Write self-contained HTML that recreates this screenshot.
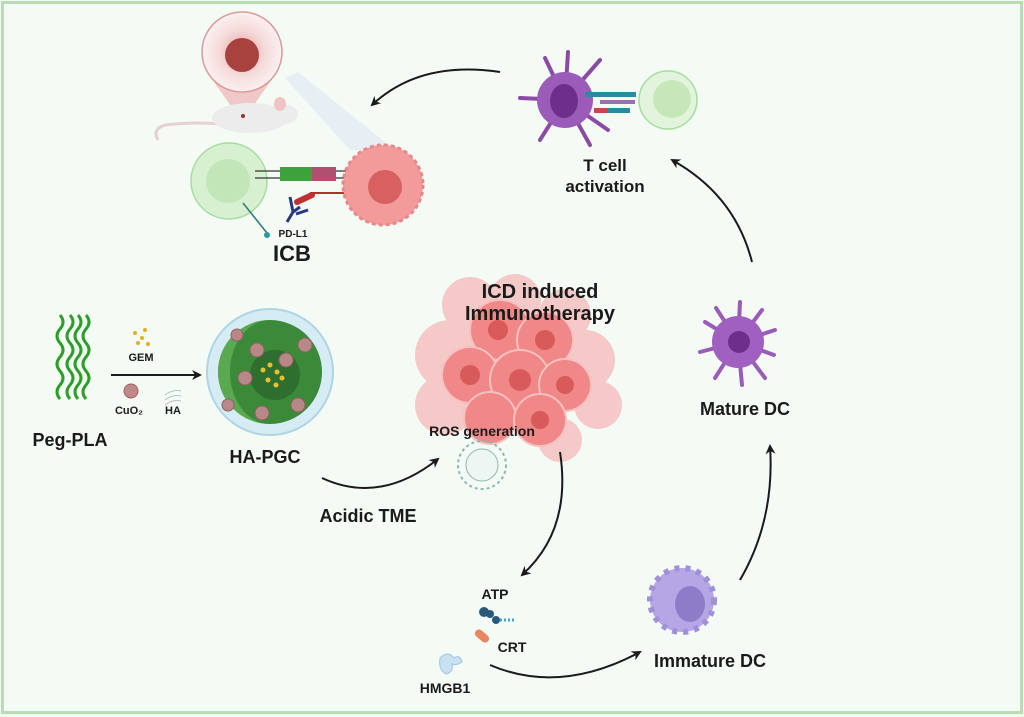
<!DOCTYPE html>
<html><head><meta charset="utf-8"><style>
html,body{margin:0;padding:0;background:#f4fbf4;}
svg{display:block;}
text{font-family:"Liberation Sans",Arial,sans-serif;font-weight:bold;fill:#1a1a1a;}
</style></head><body>
<svg width="1024" height="717" viewBox="0 0 1024 717" xmlns="http://www.w3.org/2000/svg">
<defs>
<marker id="ah" markerWidth="10" markerHeight="10" refX="8" refY="5" orient="auto" markerUnits="userSpaceOnUse" viewBox="0 0 10 10"><path d="M0,0 L10,5 L0,10 L3,5 z" fill="#1a1a1a"/></marker>
<radialGradient id="mag" cx="50%" cy="50%" r="50%"><stop offset="0" stop-color="#e8a0a0"/><stop offset="0.6" stop-color="#f6dcdc"/><stop offset="1" stop-color="#fbf0f0"/></radialGradient>
</defs>
<rect x="0" y="0" width="1024" height="717" fill="#f4fbf4"/>
<rect x="2.5" y="2.5" width="1019" height="710" fill="none" stroke="#b9dcb5" stroke-width="3"/>

<!-- magnifier & mouse -->
<polygon points="285,78 350,150 395,150 298,72" fill="#e4ecf4" opacity="0.8"/>
<path d="M214,82 L242,122 L270,82 z" fill="#f0c8c8"/>
<circle cx="242" cy="52" r="40" fill="url(#mag)" stroke="#d99a9a" stroke-width="1.5"/>
<circle cx="242" cy="55" r="17" fill="#a8423e"/>
<path d="M158,140 Q150,125 175,124 Q200,122 220,124" fill="none" stroke="#e6d0d0" stroke-width="3"/>
<ellipse cx="250" cy="118" rx="38" ry="15" fill="#ececec"/>
<ellipse cx="283" cy="114" rx="15" ry="10" fill="#ececec"/>
<ellipse cx="280" cy="104" rx="6" ry="7" fill="#f0c4c4"/>
<circle cx="243" cy="116" r="2" fill="#a03030"/>

<!-- arrow top -->
<path d="M500,72 Q420,60 372,105" fill="none" stroke="#1a1a1a" stroke-width="2" marker-end="url(#ah)"/>

<!-- ICB -->
<circle cx="229" cy="181" r="38" fill="#d6f0d0" stroke="#a7dba0" stroke-width="1.5"/>
<circle cx="228" cy="181" r="22" fill="#c2e6b8"/>
<line x1="255" y1="171" x2="360" y2="171" stroke="#333" stroke-width="1.2"/>
<line x1="255" y1="178" x2="360" y2="178" stroke="#333" stroke-width="1.2"/>
<rect x="280" y="167" width="32" height="14" fill="#3ea23c"/>
<rect x="312" y="167" width="24" height="14" fill="#b05070"/>
<line x1="310" y1="193" x2="360" y2="193" stroke="#b03030" stroke-width="2"/>
<path d="M297,202 L312,195" stroke="#c03030" stroke-width="6" stroke-linecap="round"/>
<path d="M290,197 L293,212 L287,222 M300,207 L293,212 M308,210 L296,214" fill="none" stroke="#283880" stroke-width="3"/>
<line x1="243" y1="203" x2="267" y2="233" stroke="#2a7a7a" stroke-width="1.5"/>
<circle cx="267" cy="235" r="3" fill="#2a9a9a"/>
<circle cx="383" cy="185" r="40" fill="#f39a9a" stroke="#e88888" stroke-width="3" stroke-dasharray="4 3"/>
<circle cx="385" cy="187" r="17" fill="#d86060"/>
<text x="293" y="237" font-size="10" text-anchor="middle">PD-L1</text>
<text x="292" y="261" font-size="22" text-anchor="middle">ICB</text>

<!-- top DC + T cell -->
<g stroke="#8b4aa4" stroke-width="4" stroke-linecap="round" fill="none">
<path d="M565,100 L545,58 M565,100 L568,52 M565,100 L600,60 M565,100 L520,98 M565,100 L540,140 M565,100 L590,145 M565,100 L608,130"/>
</g>
<circle cx="565" cy="100" r="28" fill="#9a5cb8"/>
<ellipse cx="564" cy="101" rx="14" ry="17" fill="#6e2f8c"/>
<circle cx="668" cy="100" r="29" fill="#e2f5dc" stroke="#a8dca0" stroke-width="1.5"/>
<circle cx="672" cy="99" r="19" fill="#c6e8b8"/>
<rect x="586" y="92" width="50" height="5" fill="#2a8aa0"/>
<rect x="600" y="100" width="35" height="4" fill="#9a70b0"/>
<rect x="594" y="108" width="14" height="5" fill="#d04050"/>
<rect x="608" y="108" width="22" height="5" fill="#2a8aa0"/>
<text x="605" y="171" font-size="17" text-anchor="middle">T cell</text>
<text x="605" y="192" font-size="17" text-anchor="middle">activation</text>

<!-- arrow right up -->
<path d="M752,262 Q735,195 672,160" fill="none" stroke="#1a1a1a" stroke-width="2" marker-end="url(#ah)"/>

<!-- ICD tumor cluster -->
<g fill="#f5b5b5" opacity="0.7">
<circle cx="450" cy="355" r="35"/><circle cx="585" cy="360" r="30"/><circle cx="598" cy="405" r="24"/><circle cx="445" cy="405" r="30"/><circle cx="470" cy="305" r="28"/><circle cx="565" cy="315" r="26"/><circle cx="515" cy="300" r="26"/><circle cx="560" cy="440" r="22"/>
</g>
<g fill="#f08888" stroke="#f7c0c0" stroke-width="2">
<circle cx="500" cy="330" r="30"/><circle cx="545" cy="340" r="28"/><circle cx="470" cy="375" r="28"/><circle cx="520" cy="380" r="30"/><circle cx="565" cy="385" r="26"/><circle cx="490" cy="418" r="26"/><circle cx="540" cy="420" r="26"/>
</g>
<g fill="#d85a5a">
<circle cx="498" cy="330" r="10"/><circle cx="545" cy="340" r="10"/><circle cx="470" cy="375" r="10"/><circle cx="520" cy="380" r="11"/><circle cx="565" cy="385" r="9"/><circle cx="540" cy="420" r="9"/>
</g>
<circle cx="482" cy="465" r="24" fill="none" stroke="#8ab8b0" stroke-width="2" stroke-dasharray="3 3"/>
<circle cx="482" cy="465" r="16" fill="#eef6f4" stroke="#8ab8b0" stroke-width="1"/>
<text x="540" y="298" font-size="20" text-anchor="middle">ICD induced</text>
<text x="540" y="320" font-size="20" text-anchor="middle">Immunotherapy</text>
<text x="482" y="436" font-size="14" text-anchor="middle">ROS generation</text>

<!-- Peg-PLA -->
<g fill="none" stroke="#2e9e2a" stroke-width="3">
<path d="M60,315 q6,7 0,14 q-6,7 0,14 q6,7 0,14 q-6,7 0,14 q6,7 0,14 q-6,7 0,14"/>
<path d="M70,315 q6,7 0,14 q-6,7 0,14 q6,7 0,14 q-6,7 0,14 q6,7 0,14 q-6,7 0,14"/>
<path d="M78,315 q6,7 0,14 q-6,7 0,14 q6,7 0,14 q-6,7 0,14 q6,7 0,14 q-6,7 0,14"/>
<path d="M86,315 q6,7 0,14 q-6,7 0,14 q6,7 0,14 q-6,7 0,14 q6,7 0,14 q-6,7 0,14"/>
</g>
<text x="70" y="446" font-size="18" text-anchor="middle">Peg-PLA</text>
<g fill="#e0b020"><circle cx="135" cy="333" r="2"/><circle cx="142" cy="338" r="2"/><circle cx="138" cy="343" r="2"/><circle cx="145" cy="330" r="2"/><circle cx="148" cy="344" r="2"/></g>
<text x="141" y="361" font-size="11" text-anchor="middle">GEM</text>
<line x1="111" y1="375" x2="200" y2="375" stroke="#1a1a1a" stroke-width="2" marker-end="url(#ah)"/>
<circle cx="131" cy="391" r="7" fill="#c08888" stroke="#a06060"/>
<text x="129" y="414" font-size="11" text-anchor="middle">CuO₂</text>
<path d="M165,395 q8,-6 16,-4 M165,400 q8,-6 16,-4 M165,405 q8,-6 16,-4" fill="none" stroke="#b8c0c8"/>
<text x="173" y="414" font-size="11" text-anchor="middle">HA</text>

<!-- HA-PGC -->
<circle cx="270" cy="372" r="63" fill="#d6ecf4" stroke="#b0d4e4" stroke-width="2"/>
<circle cx="270" cy="372" r="52" fill="#3a8a3a"/>
<path d="M270,320 A52,52 0 0 0 270,424 A40,52 0 0 1 270,320" fill="#5aa850"/>
<circle cx="275" cy="375" r="25" fill="#2e6e2e"/>
<g fill="#b88888" stroke="#946060"><circle cx="257" cy="350" r="7"/><circle cx="305" cy="345" r="7"/><circle cx="286" cy="360" r="7"/><circle cx="245" cy="378" r="7"/><circle cx="298" cy="405" r="7"/><circle cx="262" cy="413" r="7"/><circle cx="228" cy="405" r="6"/><circle cx="237" cy="335" r="6"/></g>
<g fill="#e8c030"><circle cx="263" cy="370" r="2.5"/><circle cx="270" cy="365" r="2.5"/><circle cx="277" cy="372" r="2.5"/><circle cx="268" cy="380" r="2.5"/><circle cx="276" cy="385" r="2.5"/><circle cx="282" cy="378" r="2.5"/></g>
<text x="265" y="463" font-size="18" text-anchor="middle">HA-PGC</text>

<path d="M322,478 Q380,505 438,459" fill="none" stroke="#1a1a1a" stroke-width="2" marker-end="url(#ah)"/>
<text x="368" y="522" font-size="18" text-anchor="middle">Acidic TME</text>

<!-- arrow down -->
<path d="M560,452 Q572,530 522,575" fill="none" stroke="#1a1a1a" stroke-width="2" marker-end="url(#ah)"/>

<!-- Mature DC -->
<g stroke="#9a5cb8" stroke-width="4" stroke-linecap="round" fill="none">
<path d="M738,342 L705,322 M738,342 L716,308 M738,342 L740,302 M738,342 L762,310 M738,342 L775,330 M738,342 L774,355 M738,342 L765,378 M738,342 L742,385 M738,342 L715,378 M738,342 L700,352"/>
</g>
<circle cx="738" cy="342" r="26" fill="#a060c0"/>
<circle cx="739" cy="342" r="11" fill="#6e2f8c"/>
<text x="745" y="415" font-size="18" text-anchor="middle">Mature DC</text>

<path d="M740,580 Q775,520 770,446" fill="none" stroke="#1a1a1a" stroke-width="2" marker-end="url(#ah)"/>

<!-- Immature DC -->
<circle cx="682" cy="600" r="32" fill="#b6a6e6" stroke="#a090d8" stroke-width="6" stroke-dasharray="5 6"/>
<ellipse cx="690" cy="604" rx="15" ry="18" fill="#8e7cc8"/>
<text x="710" y="667" font-size="18" text-anchor="middle">Immature DC</text>

<!-- ATP CRT HMGB1 -->
<text x="495" y="599" font-size="14" text-anchor="middle">ATP</text>
<circle cx="484" cy="612" r="5" fill="#2a5a7a"/><circle cx="490" cy="614" r="4" fill="#2a5a7a"/><circle cx="496" cy="620" r="4" fill="#2a5a7a"/>
<line x1="500" y1="620" x2="515" y2="620" stroke="#4aa0d0" stroke-width="3" stroke-dasharray="2 2"/>
<rect x="474" y="632" width="16" height="8" rx="4" fill="#e88860" transform="rotate(40 482 636)"/>
<text x="512" y="652" font-size="14" text-anchor="middle">CRT</text>
<path d="M440,658 q8,-8 14,0 q6,-4 8,4 q-6,4 -10,2 q2,8 -6,10 q-8,-4 -6,-16z" fill="#c8e0f0" stroke="#9cc8e4"/>
<text x="445" y="693" font-size="14" text-anchor="middle">HMGB1</text>
<path d="M490,665 Q560,695 640,652" fill="none" stroke="#1a1a1a" stroke-width="2" marker-end="url(#ah)"/>
</svg>
</body></html>
